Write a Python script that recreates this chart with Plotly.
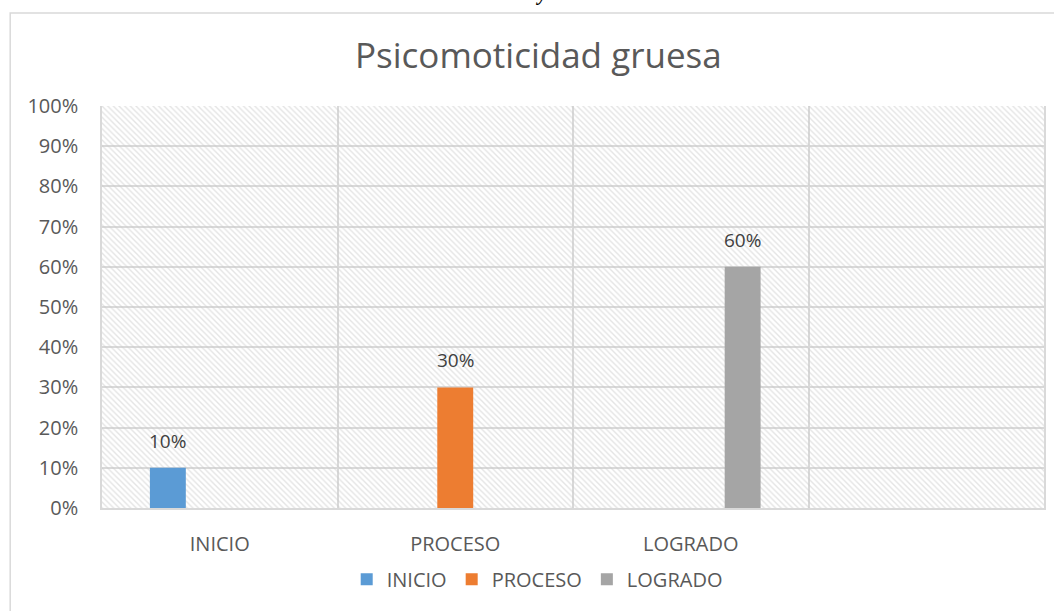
import plotly.graph_objects as go

categories = ["INICIO", "PROCESO", "LOGRADO"]
values = [0.10, 0.30, 0.60]
colors = ["#5B9BD5", "#ED7D31", "#A5A5A5"]
y_ticks = [0, 0.1, 0.2, 0.3, 0.4, 0.5, 0.6, 0.7, 0.8, 0.9, 1.0]

FONT = "Open Sans"
GRID = "#d9d9d9"
TXT = "#595959"

# plot area in pixels: x 102..1046, y 106..508 (4 category slots)
BAR_W = 36 / 236
SLOT = 52 / 236

fig = go.Figure()

# hatched plot-area background (drawn first so the bars sit on top)
fig.add_trace(go.Bar(
    x=[1.5], y=[1], width=[4],
    marker=dict(color="rgba(0,0,0,0)", line=dict(width=0),
                pattern=dict(shape="\\", fgcolor="#cacaca", bgcolor="rgba(0,0,0,0)",
                             size=4, solidity=0.35)),
    hoverinfo="skip", showlegend=False,
))

annotations = []
for i, name in enumerate(categories):
    off = (i - 1) * SLOT - BAR_W / 2
    fig.add_trace(go.Bar(
        x=[i], y=[values[i]], name=name,
        width=[BAR_W], offset=off,
        marker=dict(color=colors[i], line=dict(width=0)),
    ))
    annotations.append(dict(
        x=i + off + BAR_W / 2, y=values[i], xref="x", yref="y",
        text=f"{values[i]:.0%}", showarrow=False, yanchor="bottom", yshift=12,
        font=dict(family=FONT, size=19, color="#404040"),
    ))

annotations += [
    dict(text="Psicomoticidad gruesa", xref="paper", yref="paper",
         x=(539 - 102) / 944, y=(508 - 55) / 402, xanchor="center", yanchor="middle",
         showarrow=False, font=dict(family=FONT, size=35, color=TXT)),
    dict(text="<b><i>y</i></b>", xref="paper", yref="paper",
         x=(542 - 102) / 944, y=(508 - 7) / 402, xanchor="center", yanchor="bottom",
         showarrow=False, font=dict(family="Liberation Serif", size=20, color="#000000")),
]

fig.update_layout(
    width=1054, height=611,
    margin=dict(l=102, r=8, t=106, b=103),
    paper_bgcolor="white", plot_bgcolor="white",
    barmode="overlay",
    font=dict(family=FONT, color=TXT),
    showlegend=True,
    legend=dict(orientation="h", x=0.462, xanchor="center", y=-0.177, yanchor="middle",
                font=dict(family=FONT, size=20, color=TXT),
                traceorder="normal", itemwidth=30),
    annotations=annotations,
    shapes=[
        dict(type="rect", xref="paper", yref="paper",
             x0=(10 - 102) / 944, x1=(1070 - 102) / 944,
             y0=(508 - 640) / 402, y1=(508 - 13) / 402,
             line=dict(color=GRID, width=1.5), fillcolor="rgba(0,0,0,0)", layer="below"),
    ],
)

fig.update_xaxes(
    range=[-0.5, 3.5], tickvals=[0, 1, 2], ticktext=categories,
    showgrid=False, zeroline=False, ticks="",
    showline=True, linecolor=GRID, linewidth=1.5,
    minor=dict(tickvals=[0.5, 1.5, 2.5], showgrid=True, gridcolor=GRID, gridwidth=1.5),
    tickfont=dict(family=FONT, size=20, color=TXT),
    ticklabelstandoff=17,
)
fig.update_yaxes(
    range=[0, 1], tickvals=y_ticks, tickformat=".0%",
    showgrid=True, gridcolor=GRID, gridwidth=1.5, zeroline=False,
    showline=True, linecolor=GRID, linewidth=1.5, mirror=True,
    tickfont=dict(family=FONT, size=20, color=TXT),
    ticklabelstandoff=18,
)

fig.write_html("out.html", config={"displayModeBar": False},
               post_script="document.body.style.margin='0';")
